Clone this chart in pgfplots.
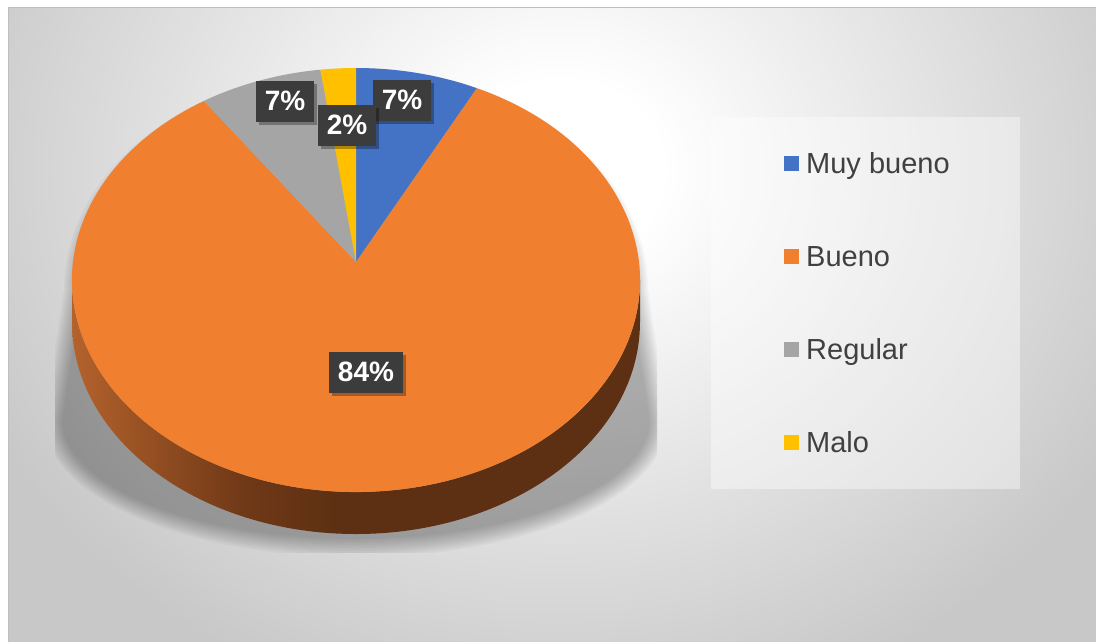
\documentclass[border=0pt]{standalone}
\usepackage{pgfplots}
\pgfplotsset{compat=1.18}
\usepackage{pgfplotstable}
\usepackage{fontspec}
\setmainfont{Liberation Sans}
\usetikzlibrary{calc,shadows}

\definecolor{cBlue}{HTML}{4472C4}
\definecolor{cOrange}{HTML}{F0802F}
\definecolor{cGray}{HTML}{A5A5A5}
\definecolor{cYellow}{HTML}{FFC000}
\definecolor{lblbg}{HTML}{3C3C3C}
\definecolor{legtxt}{HTML}{404040}
\definecolor{bgedge}{HTML}{C8C8C8}
\definecolor{bgmid}{HTML}{E2E2E2}
\definecolor{sideA}{RGB}{180,98,44}
\definecolor{sideB}{RGB}{112,57,23}
\definecolor{sideC}{RGB}{94,48,19}

\pgfdeclarehorizontalshading{pieside}{100bp}{color(0bp)=(sideA); color(25bp)=(sideA); color(40bp)=(sideB); color(48bp)=(sideC); color(100bp)=(sideC)}
\pgfdeclareradialshading{bgrad}{\pgfpoint{0bp}{0bp}}{color(0bp)=(white); color(4bp)=(white); color(15bp)=(bgmid); color(25bp)=(bgedge); color(50bp)=(bgedge)}

\pgfplotstableread[col sep=comma]{
name,value
Muy bueno,7
Bueno,84
Regular,7
Malo,2
}\piedata

\pgfplotstablegetelem{0}{value}\of\piedata \edef\vA{\pgfplotsretval}
\pgfplotstablegetelem{1}{value}\of\piedata \edef\vB{\pgfplotsretval}
\pgfplotstablegetelem{2}{value}\of\piedata \edef\vC{\pgfplotsretval}
\pgfplotstablegetelem{3}{value}\of\piedata \edef\vD{\pgfplotsretval}
\pgfmathsetmacro\aA{90}
\pgfmathsetmacro\aB{\aA-3.6*\vA}
\pgfmathsetmacro\aC{\aB-3.6*\vB}
\pgfmathsetmacro\aD{\aC-3.6*\vC}
\pgfmathsetmacro\aE{\aD-3.6*\vD}

\tikzset{
  lbl/.style={fill=lblbg, text=white, font=\fontsize{28}{28}\selectfont\bfseries,
    inner xsep=9pt, inner ysep=0pt, minimum height=41pt,
    drop shadow={shadow xshift=3pt, shadow yshift=-3pt, opacity=0.3, fill=black}},
  legt/.style={anchor=base west, inner sep=0pt, text=legtxt, font=\fontsize{29}{29}\selectfont},
  pie/.style={x radius=284pt, y radius=212pt}
}

% one layer of the soft shadow below the pie (#1 = growth in pt)
\newcommand\shadowlayer[1]{%
  \fill[black, opacity=0.03] (axis cs:{76-#1},290)
    arc[start angle=180, end angle=0, x radius={(280+#1)*1pt}, y radius={(210+#1)*1pt}]
    -- (axis cs:{656+#1},420)
    arc[start angle=0, end angle=-180, x radius={(300+#1)*1pt}, y radius={(125+#1)*1pt}]
    -- cycle;}

\begin{document}
\begin{tikzpicture}
\begin{axis}[at={(0pt,0pt)}, anchor=south west, width=1096pt, height=641pt,
  scale only axis, xmin=0, xmax=1096, ymin=0, ymax=641, y dir=reverse,
  hide axis, clip=false]
% background
\fill[white] (axis cs:-10,-10) rectangle (axis cs:1110,660);
\begin{scope}
\clip (axis cs:8,7) rectangle (axis cs:1110,660);
\fill[bgedge] (axis cs:8,7) rectangle (axis cs:1110,660);
\shade[shading=bgrad] (axis cs:560,170) ellipse [x radius=640pt, y radius=560pt];
\end{scope}
\draw[black!25, line width=0.8pt] (axis cs:8,660) -- (axis cs:8,7) -- (axis cs:1110,7);
% soft shadow
\begin{scope}
\clip (axis cs:55,60) rectangle (axis cs:657,552);
\shadowlayer{-6}
\shadowlayer{-4}
\shadowlayer{-2}
\shadowlayer{0}
\shadowlayer{2}
\shadowlayer{4}
\shadowlayer{6}
\shadowlayer{8}
\shadowlayer{10}
\shadowlayer{12}
\end{scope}
% side of the pie
\shade[shading=pieside] (axis cs:72,280) -- (axis cs:72,322)
  arc[start angle=180, end angle=360, pie] -- (axis cs:640,280)
  arc[start angle=0, end angle=-180, pie] -- cycle;
% top face wedges
\fill[cBlue] (axis cs:356,262) -- ($(axis cs:356,280)+(\aA:284pt and 212pt)$)
  arc[start angle=\aA, end angle=\aB, pie] -- cycle;
\fill[cOrange] (axis cs:356,262) -- ($(axis cs:356,280)+(\aB:284pt and 212pt)$)
  arc[start angle=\aB, end angle=\aC, pie] -- cycle;
\fill[cGray] (axis cs:356,262) -- ($(axis cs:356,280)+(\aC:284pt and 212pt)$)
  arc[start angle=\aC, end angle=\aD, pie] -- cycle;
\fill[cYellow] (axis cs:356,262) -- ($(axis cs:356,280)+(\aD:284pt and 212pt)$)
  arc[start angle=\aD, end angle=\aE, pie] -- cycle;
% data labels
\node[lbl] at (axis cs:366,372) {\vB\%};
\node[lbl] at (axis cs:285,101) {\vC\%};
\node[lbl] at (axis cs:402,100) {\vA\%};
\node[lbl] at (axis cs:347,125) {\vD\%};
% legend
\fill[white, opacity=0.4] (axis cs:711,117) rectangle (axis cs:1020,489);
\fill[cBlue]   (axis cs:784,155.5) rectangle (axis cs:799,170.5);
\fill[cOrange] (axis cs:784,248.5) rectangle (axis cs:799,263.5);
\fill[cGray]   (axis cs:784,341.5) rectangle (axis cs:799,356.5);
\fill[cYellow] (axis cs:784,434.5) rectangle (axis cs:799,449.5);
\node[legt] at (axis cs:806,173.5) {Muy bueno};
\node[legt] at (axis cs:806,266.5) {Bueno};
\node[legt] at (axis cs:806,359.5) {Regular};
\node[legt] at (axis cs:806,452.5) {Malo};
\end{axis}
\pgfresetboundingbox
\path[use as bounding box] (0pt,0pt) rectangle (1096pt,641pt);
\end{tikzpicture}
\end{document}
